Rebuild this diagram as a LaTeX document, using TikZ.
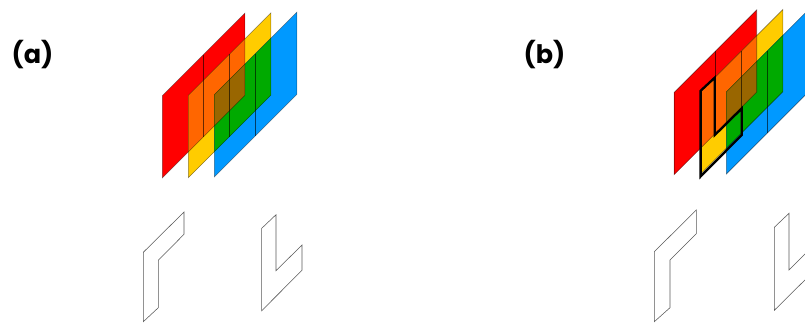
\documentclass[tikz,border=0pt]{standalone}
\usepackage{fontspec}
\setmainfont{Poppins}
\definecolor{cred}{HTML}{FF0000}
\definecolor{cyel}{HTML}{FFCC00}
\definecolor{cblu}{HTML}{0099FF}
\definecolor{cora}{HTML}{FF6600}
\definecolor{cgre}{HTML}{00AA00}
\definecolor{cbro}{HTML}{996600}
\tikzset{
  edge/.style={draw=black,draw opacity=.45,line width=.6pt,line join=miter},
  midline/.style={draw=black,draw opacity=.6,line width=.6pt},
  outline/.style={draw=black!65,line width=.55pt,line join=miter},
  cut/.style={draw=black,line width=2.3pt,line join=miter},
  tag/.style={font=\bfseries\fontsize{25.5}{26}\selectfont,inner sep=0pt,anchor=center}
}
% args: x0, y0(top-left), height, width
\newcommand{\pgram}[4]{(#1,#2) -- (#1+#4,#2-#4) -- (#1+#4,#2-#4+#3) -- (#1,#2+#3) -- cycle}
% Full stack: red x, red y, yel x, yel y, blu x, blu y
\newcommand{\stack}[6]{%
  \fill[cred] \pgram{#1}{#2}{82.2}{82.5};
  \fill[cyel] \pgram{#3}{#4}{82.2}{82.5};
  \fill[cblu] \pgram{#5}{#6}{82.2}{82.5};
  \begin{scope}\clip \pgram{#1}{#2}{82.2}{82.5};\fill[cora] \pgram{#3}{#4}{82.2}{82.5};\end{scope}
  \begin{scope}\clip \pgram{#3}{#4}{82.2}{82.5};\fill[cgre] \pgram{#5}{#6}{82.2}{82.5};\end{scope}
  \begin{scope}\clip \pgram{#1}{#2}{82.2}{82.5};\clip \pgram{#3}{#4}{82.2}{82.5};\fill[cbro] \pgram{#5}{#6}{82.2}{82.5};\end{scope}
  \path[edge] \pgram{#1}{#2}{82.2}{82.5};
  \path[edge] \pgram{#3}{#4}{82.2}{82.5};
  \path[edge] \pgram{#5}{#6}{82.2}{82.5};
  \path[midline] (#1+41,#2-41) -- ++(0,82.2);
  \path[midline] (#3+41,#4-41) -- ++(0,82.2);
  \path[midline] (#5+41,#6-41) -- ++(0,82.2);
}
\begin{document}
\begin{tikzpicture}[x=1pt,y=-1pt]
\useasboundingbox (0,0) rectangle (805,322);
\clip (0,0) rectangle (805,322);
\fill[white] (0,0) rectangle (805,322);
\node[tag] (laba) at (32.5,55) {(a)};
\node[tag] (labb) at (544.5,55) {(b)};
\stack{162.4}{95.6}{188.4}{95.4}{214.4}{94.6}
\stack{674.2}{92.4}{700.4}{92}{726.4}{91.8}
\draw[cut] (700.6,90.8) -- (714.8,77.6) -- (714.8,135) -- (741.7,108.5) -- (741.7,135) -- (700.6,176.5) -- cycle;
\path[outline] (143.3,252.3) -- (184,212) -- (184,234.3) -- (158.3,260.3) -- (158.3,307.7) -- (143.3,321.7) -- cycle;
\path[outline] (261.7,228.3) -- (276,214.7) -- (276,270.7) -- (302,245) -- (302,270.3) -- (261.7,310.7) -- cycle;
\path[outline] (654.3,251.7) -- (696.3,210) -- (696.3,233.7) -- (670,260) -- (670,307.7) -- (654.3,321.7) -- cycle;
\path[outline] (774.3,227.3) -- (789,213.3) -- (789,270) -- (815,244) -- (815,270) -- (774.3,310.3) -- cycle;
\end{tikzpicture}
\end{document}
